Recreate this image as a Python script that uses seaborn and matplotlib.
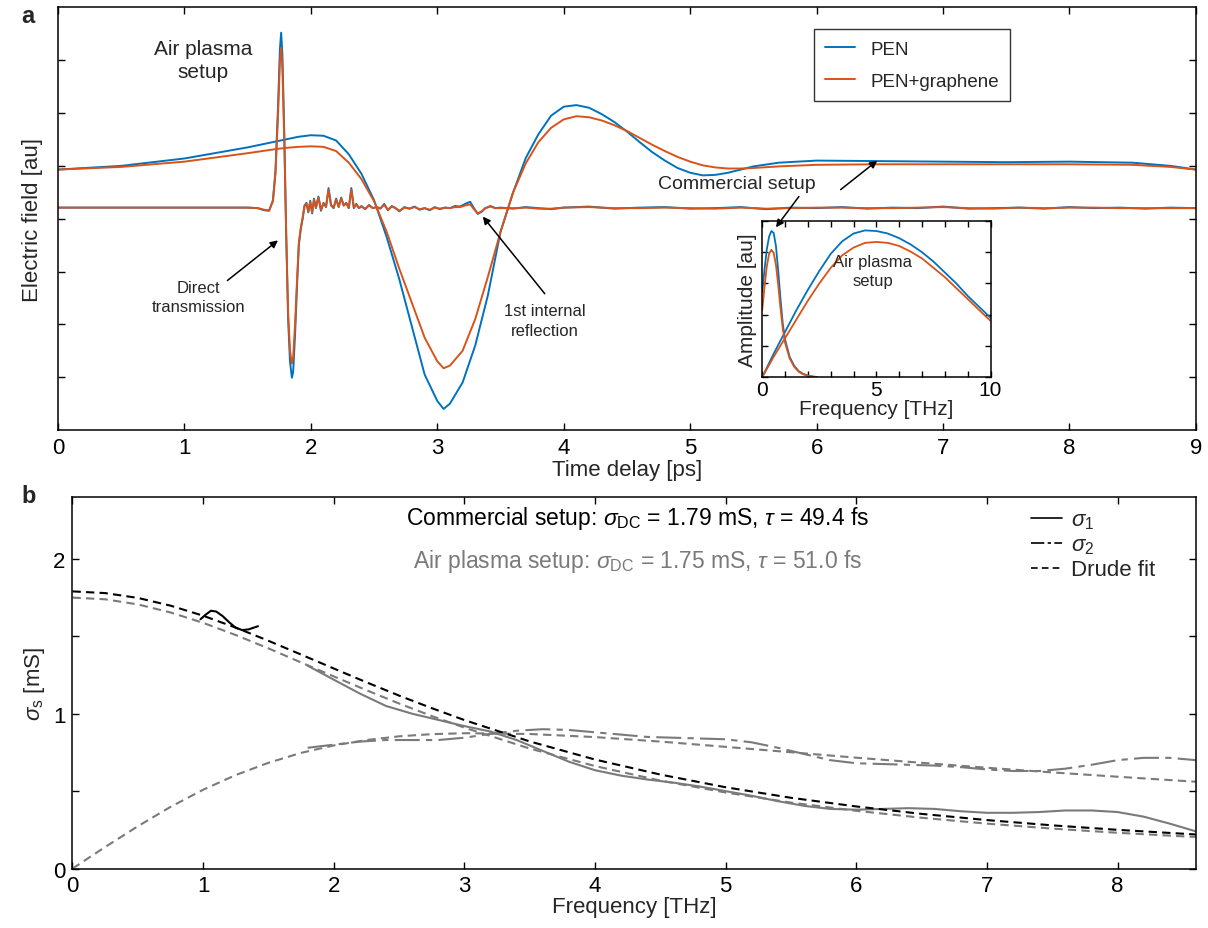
import numpy as np
import pandas as pd
import matplotlib
matplotlib.use('Agg')
import matplotlib.pyplot as plt
import seaborn as sns
from matplotlib.lines import Line2D

# colours (MATLAB default)
BLUE = '#0072BD'
ORANGE = '#D95319'
GREY = '#7a7a7a'

# ---------------- panel a: commercial setup time traces ----------------
com_t = [0.0, 0.5, 1.0, 1.5, 1.7, 1.8, 1.9, 2.0, 2.1, 2.2,
         2.3, 2.4, 2.5, 2.6, 2.7, 2.8, 2.9, 3.0, 3.05, 3.1,
         3.2, 3.3, 3.4, 3.5, 3.6, 3.7, 3.8, 3.9, 4.0, 4.1,
         4.2, 4.3, 4.4, 4.5, 4.6, 4.7, 4.8, 4.9, 5.0, 5.1,
         5.2, 5.3, 5.4, 5.5, 5.7, 6.0, 6.5, 7.0, 7.5, 8.0,
         8.5, 8.8, 9.0]
com_pen = [0.93, 1.00, 1.14, 1.35, 1.45, 1.50, 1.55, 1.58, 1.57, 1.48,
           1.22, 0.85, 0.35, -0.35, -1.15, -2.05, -2.95, -3.45, -3.60, -3.50,
           -3.10, -2.40, -1.45, -0.25, 0.50, 1.15, 1.60, 1.95, 2.12, 2.15,
           2.10, 1.98, 1.83, 1.65, 1.45, 1.26, 1.10, 0.96, 0.87, 0.82,
           0.83, 0.87, 0.93, 0.99, 1.06, 1.10, 1.09, 1.08, 1.07, 1.08,
           1.06, 1.00, 0.93]
com_gr = [0.93, 0.98, 1.08, 1.24, 1.31, 1.34, 1.36, 1.37, 1.36, 1.28,
          1.06, 0.75, 0.33, -0.25, -0.95, -1.60, -2.25, -2.70, -2.83, -2.78,
          -2.50, -1.90, -1.10, -0.25, 0.50, 1.05, 1.45, 1.72, 1.88, 1.94,
          1.92, 1.86, 1.77, 1.66, 1.53, 1.40, 1.28, 1.17, 1.08, 1.01,
          0.97, 0.95, 0.95, 0.96, 0.99, 1.02, 1.03, 1.03, 1.03, 1.03,
          1.02, 0.98, 0.93]

# ---------------- panel a: air plasma time traces ----------------
air_t = [0.0, 0.5, 1.0, 1.3, 1.5, 1.58, 1.63, 1.67, 1.70, 1.72,
         1.74, 1.755, 1.765, 1.775, 1.79, 1.805, 1.82, 1.835, 1.85, 1.86,
         1.875, 1.89, 1.905, 1.92, 1.935, 1.95, 1.965, 1.98, 1.995, 2.01,
         2.025, 2.04, 2.06, 2.08, 2.10, 2.12, 2.14, 2.16, 2.18, 2.20,
         2.22, 2.24, 2.26, 2.28, 2.30, 2.32, 2.34, 2.36, 2.38, 2.40,
         2.43, 2.46, 2.49, 2.52, 2.55, 2.58, 2.61, 2.64, 2.67, 2.70,
         2.74, 2.78, 2.82, 2.86, 2.90, 2.94, 2.98, 3.02, 3.06, 3.10,
         3.14, 3.18, 3.22, 3.26, 3.29, 3.32, 3.35, 3.38, 3.42, 3.46,
         3.50, 3.6, 3.7, 3.8, 3.9, 4.0, 4.2, 4.4, 4.6, 4.8,
         5.0, 5.2, 5.4, 5.6, 5.8, 6.0, 6.2, 6.4, 6.6, 6.8,
         7.0, 7.2, 7.4, 7.6, 7.8, 8.0, 8.2, 8.4, 8.6, 8.8,
         9.0]
air_pen = [0.21, 0.21, 0.21, 0.21, 0.21, 0.20, 0.16, 0.15, 0.35, 0.90,
           2.10, 3.20, 3.52, 3.10, 1.60, -0.30, -1.90, -2.70, -3.01, -2.90,
           -2.20, -1.30, -0.50, -0.20, 0.00, 0.25, 0.30, 0.12, 0.34, 0.10,
           0.38, 0.20, 0.42, 0.15, 0.30, 0.22, 0.58, 0.25, 0.20, 0.38,
           0.22, 0.40, 0.25, 0.30, 0.20, 0.58, 0.20, 0.28, 0.20, 0.24,
           0.18, 0.26, 0.20, 0.22, 0.19, 0.28, 0.16, 0.24, 0.20, 0.14,
           0.22, 0.19, 0.23, 0.17, 0.20, 0.16, 0.22, 0.18, 0.21, 0.20,
           0.24, 0.23, 0.28, 0.32, 0.20, 0.09, 0.13, 0.20, 0.24, 0.20,
           0.21, 0.19, 0.22, 0.20, 0.18, 0.21, 0.23, 0.19, 0.21, 0.22,
           0.19, 0.20, 0.22, 0.18, 0.21, 0.20, 0.22, 0.19, 0.21, 0.20,
           0.23, 0.19, 0.20, 0.21, 0.19, 0.22, 0.20, 0.21, 0.19, 0.21,
           0.20]
air_gr = [0.21, 0.21, 0.21, 0.21, 0.21, 0.20, 0.17, 0.16, 0.33, 0.85,
          1.95, 2.95, 3.24, 2.85, 1.45, -0.30, -1.75, -2.50, -2.74, -2.62,
          -2.00, -1.20, -0.45, -0.18, 0.02, 0.24, 0.28, 0.14, 0.32, 0.12,
          0.36, 0.21, 0.40, 0.17, 0.29, 0.23, 0.55, 0.26, 0.21, 0.36,
          0.23, 0.38, 0.25, 0.29, 0.21, 0.55, 0.21, 0.27, 0.20, 0.23,
          0.19, 0.25, 0.20, 0.22, 0.20, 0.26, 0.17, 0.23, 0.20, 0.15,
          0.21, 0.19, 0.22, 0.18, 0.20, 0.17, 0.21, 0.19, 0.21, 0.20,
          0.22, 0.22, 0.25, 0.27, 0.18, 0.10, 0.14, 0.20, 0.23, 0.20,
          0.20, 0.20, 0.21, 0.19, 0.19, 0.21, 0.22, 0.20, 0.20, 0.21,
          0.20, 0.19, 0.21, 0.19, 0.20, 0.21, 0.21, 0.20, 0.20, 0.21,
          0.22, 0.20, 0.19, 0.21, 0.20, 0.21, 0.21, 0.20, 0.20, 0.20,
          0.20]

# ---------------- inset: amplitude spectra ----------------
spec_com_f = [0.0, 0.1, 0.2, 0.3, 0.4, 0.5, 0.6, 0.7, 0.8, 0.9,
              1.0, 1.2, 1.4, 1.6, 1.8, 2.0, 2.2, 2.4]
spec_com_pen = [2.73, 3.45, 4.10, 4.50, 4.68, 4.62, 4.20, 3.40, 2.50, 1.70,
                1.20, 0.65, 0.36, 0.19, 0.10, 0.05, 0.02, 0.00]
spec_com_gr = [2.16, 2.90, 3.55, 3.95, 4.08, 3.98, 3.60, 2.95, 2.20, 1.55,
               1.10, 0.60, 0.33, 0.17, 0.09, 0.04, 0.02, 0.00]
spec_air_f = [0.0, 0.5, 1.0, 1.5, 2.0, 2.5, 3.0, 3.5, 4.0, 4.5,
              5.0, 5.5, 6.0, 6.5, 7.0, 7.5, 8.0, 8.5, 9.0, 9.5, 10.0]
spec_air_pen = [0.0, 0.75, 1.45, 2.15, 2.80, 3.40, 3.95, 4.35, 4.60, 4.70,
                4.68, 4.60, 4.45, 4.25, 4.00, 3.70, 3.35, 3.00, 2.60, 2.25, 1.90]
spec_air_gr = [0.0, 0.65, 1.25, 1.85, 2.45, 3.00, 3.50, 3.90, 4.15, 4.30,
               4.33, 4.30, 4.20, 4.02, 3.80, 3.50, 3.20, 2.85, 2.50, 2.15, 1.80]

# ---------------- panel b: conductivity ----------------
fit_f = [0.0, 0.25, 0.5, 0.75, 1.0, 1.25, 1.5, 1.75, 2.0, 2.25,
         2.5, 2.75, 3.0, 3.5, 4.0, 4.5, 5.0, 5.5, 6.0, 6.5,
         7.0, 7.5, 8.0, 8.5, 8.6]
fit_com_s1 = [1.790, 1.779, 1.748, 1.698, 1.633, 1.556, 1.471, 1.382, 1.292, 1.203,
              1.117, 1.036, 0.959, 0.821, 0.704, 0.607, 0.525, 0.457, 0.401, 0.353,
              0.313, 0.279, 0.250, 0.225, 0.220]
fit_air_s1 = [1.750, 1.739, 1.706, 1.654, 1.587, 1.508, 1.422, 1.331, 1.241, 1.152,
              1.066, 0.985, 0.910, 0.775, 0.662, 0.568, 0.491, 0.426, 0.373, 0.328,
              0.290, 0.258, 0.231, 0.208, 0.204]
fit_air_s2 = [0.000, 0.139, 0.273, 0.398, 0.509, 0.604, 0.683, 0.747, 0.795, 0.830,
              0.854, 0.868, 0.874, 0.869, 0.849, 0.820, 0.786, 0.751, 0.716, 0.683,
              0.651, 0.621, 0.593, 0.566, 0.561]

com_f = [0.98, 1.02, 1.06, 1.10, 1.15, 1.20, 1.25, 1.30, 1.35, 1.42]
com_s1 = [1.61, 1.64, 1.665, 1.66, 1.63, 1.59, 1.555, 1.54, 1.545, 1.565]

air_f = [1.8, 2.0, 2.2, 2.4, 2.6, 2.8, 3.0, 3.2, 3.4, 3.6,
         3.8, 4.0, 4.2, 4.4, 4.6, 4.8, 5.0, 5.2, 5.4, 5.6,
         5.8, 6.0, 6.2, 6.4, 6.6, 6.8, 7.0, 7.2, 7.4, 7.6,
         7.8, 8.0, 8.2, 8.4, 8.6]
air_s1 = [1.31, 1.22, 1.13, 1.05, 1.00, 0.96, 0.92, 0.885, 0.83, 0.76,
          0.69, 0.635, 0.60, 0.575, 0.555, 0.53, 0.50, 0.47, 0.435, 0.405,
          0.385, 0.38, 0.385, 0.39, 0.385, 0.37, 0.36, 0.36, 0.365, 0.375,
          0.375, 0.365, 0.335, 0.29, 0.24]
air_s2 = [0.78, 0.80, 0.82, 0.83, 0.83, 0.83, 0.845, 0.87, 0.89, 0.90,
          0.895, 0.88, 0.865, 0.85, 0.845, 0.84, 0.835, 0.815, 0.78, 0.74,
          0.70, 0.68, 0.675, 0.67, 0.665, 0.655, 0.64, 0.63, 0.63, 0.645,
          0.67, 0.70, 0.715, 0.715, 0.70]


def draw(ax, x, y, **kw):
    # plain line through the given samples
    sns.lineplot(x=x, y=y, ax=ax, sort=False, estimator=None, errorbar=None, **kw)


sns.set_theme(style='ticks')
plt.rcParams['font.family'] = ['Liberation Sans', 'DejaVu Sans']
plt.rcParams['mathtext.fontset'] = 'custom'
plt.rcParams['mathtext.rm'] = 'Liberation Sans'
plt.rcParams['mathtext.it'] = 'Liberation Sans:italic'
plt.rcParams['axes.linewidth'] = 1.1
plt.rcParams['axes.edgecolor'] = 'black'

fig = plt.figure(figsize=(12.08, 9.29), dpi=100)
ax1 = fig.add_axes([0.048, 0.536, 0.942, 0.455])
ax2 = fig.add_axes([0.060, 0.064, 0.930, 0.400])
axin = fig.add_axes([0.631, 0.593, 0.189, 0.168])

tick_kw = dict(direction='in', top=True, right=True, length=5, width=1.0,
               labelsize=16, colors='black', pad=5)

# ---- panel a ----
lw = 1.4
draw(ax1, com_t, com_pen, color=BLUE, lw=lw)
draw(ax1, air_t, air_pen, color=BLUE, lw=lw)
draw(ax1, com_t, com_gr, color=ORANGE, lw=lw)
draw(ax1, air_t, air_gr, color=ORANGE, lw=lw)
ax1.set_xlim(0, 9)
ax1.set_ylim(-4, 4)
ax1.set_xticks(range(0, 10))
ax1.set_yticks([-3, -2, -1, 0, 1, 2, 3])
ax1.set_yticklabels([])
ax1.tick_params(**tick_kw)
ax1.set_xlabel('Time delay [ps]', fontsize=16, labelpad=1)
ax1.set_ylabel('Electric field [au]', fontsize=16, labelpad=6)

h = [Line2D([], [], color=BLUE, lw=lw), Line2D([], [], color=ORANGE, lw=lw)]
leg = ax1.legend(h, ['PEN', 'PEN+graphene'], loc='upper right',
                 bbox_to_anchor=(0.845, 0.97), frameon=True, fancybox=False,
                 fontsize=13.5, handlelength=1.6, borderpad=0.6, labelspacing=0.8)
leg.get_frame().set_edgecolor('black')
leg.get_frame().set_linewidth(1.0)

arrow = dict(arrowstyle='-|>', color='black', lw=1.1, mutation_scale=11,
             shrinkA=0, shrinkB=0)
ax1.text(1.15, 3.0, 'Air plasma\nsetup', fontsize=15, ha='center', va='center',
         linespacing=1.3)
ax1.text(1.11, -1.48, 'Direct\ntransmission', fontsize=12, ha='center', va='center',
         linespacing=1.4)
ax1.annotate('', xy=(1.74, -0.41), xytext=(1.34, -1.17), arrowprops=arrow)
ax1.text(3.85, -1.93, '1st internal\nreflection', fontsize=12, ha='center', va='center',
         linespacing=1.4)
ax1.annotate('', xy=(3.36, 0.04), xytext=(3.85, -1.42), arrowprops=arrow)
ax1.text(5.37, 0.67, 'Commercial setup', fontsize=14, ha='center', va='center')
ax1.annotate('', xy=(6.48, 1.10), xytext=(6.19, 0.55), arrowprops=arrow)

# ---- inset ----
draw(axin, spec_com_f, spec_com_pen, color=BLUE, lw=1.3)
draw(axin, spec_air_f, spec_air_pen, color=BLUE, lw=1.3)
draw(axin, spec_com_f, spec_com_gr, color=ORANGE, lw=1.3)
draw(axin, spec_air_f, spec_air_gr, color=ORANGE, lw=1.3)
axin.set_xlim(0, 10)
axin.set_ylim(0, 5)
axin.set_xticks(range(0, 11))
axin.set_xticklabels(['0', '', '', '', '', '5', '', '', '', '', '10'])
axin.set_yticks([0, 1, 2, 3, 4, 5])
axin.set_yticklabels([])
axin.tick_params(direction='in', top=True, right=True, length=4, width=1.0,
                 labelsize=15, colors='black', pad=2)
axin.set_xlabel('Frequency [THz]', fontsize=15, labelpad=0)
axin.set_ylabel('Amplitude [au]', fontsize=15, labelpad=2)
axin.text(4.85, 3.4, 'Air plasma\nsetup', fontsize=12, ha='center', va='center',
          linespacing=1.3)
axin.annotate('', xy=(0.6, 4.8), xycoords='data', xytext=(5.86, 0.42),
              textcoords=ax1.transData, arrowprops=arrow, annotation_clip=False)

# ---- panel b ----
dash = (0, (4, 2.5))
dashdot = (0, (12, 3, 3, 3))
lw2 = 1.5
draw(ax2, fit_f, fit_air_s1, color=GREY, lw=lw2, linestyle=dash)
draw(ax2, fit_f, fit_air_s2, color=GREY, lw=lw2, linestyle=dash)
draw(ax2, air_f, air_s1, color=GREY, lw=lw2)
draw(ax2, air_f, air_s2, color=GREY, lw=lw2, linestyle=dashdot)
draw(ax2, fit_f, fit_com_s1, color='black', lw=lw2, linestyle=dash)
draw(ax2, com_f, com_s1, color='black', lw=lw2)
ax2.set_xlim(0, 8.6)
ax2.set_ylim(0, 2.4)
ax2.set_xticks(range(0, 9))
ax2.set_yticks([0, 0.5, 1, 1.5, 2])
ax2.set_yticklabels(['0', '', '1', '', '2'])
ax2.tick_params(**tick_kw)
ax2.set_xlabel('Frequency [THz]', fontsize=16, labelpad=0)
ax2.set_ylabel(r'$\sigma_{\rm s}$ [mS]', fontsize=16, labelpad=4)

ax2.text(0.503, 0.945, r'Commercial setup: $\sigma_{\rm DC}$ = 1.79 mS, $\tau$ = 49.4 fs',
         transform=ax2.transAxes, fontsize=16.5, ha='center', va='center', color='black')
ax2.text(0.503, 0.83, r'Air plasma setup: $\sigma_{\rm DC}$ = 1.75 mS, $\tau$ = 51.0 fs',
         transform=ax2.transAxes, fontsize=16.5, ha='center', va='center', color=GREY)

h2 = [Line2D([], [], color='black', lw=1.2),
      Line2D([], [], color='black', lw=1.2, linestyle=(0, (8, 2, 2, 2))),
      Line2D([], [], color='black', lw=1.2, linestyle=dash)]
ax2.legend(h2, [r'$\sigma_1$', r'$\sigma_2$', 'Drude fit'], loc='upper left',
           bbox_to_anchor=(0.835, 1.02), frameon=False, fontsize=16,
           handlelength=1.4, handletextpad=0.4, labelspacing=0.15)

fig.text(0.018, 0.982, 'a', fontsize=17, fontweight='bold', ha='left', va='center')
fig.text(0.018, 0.466, 'b', fontsize=17, fontweight='bold', ha='left', va='center')

fig.savefig('out.png', dpi=100)
plt.close(fig)
